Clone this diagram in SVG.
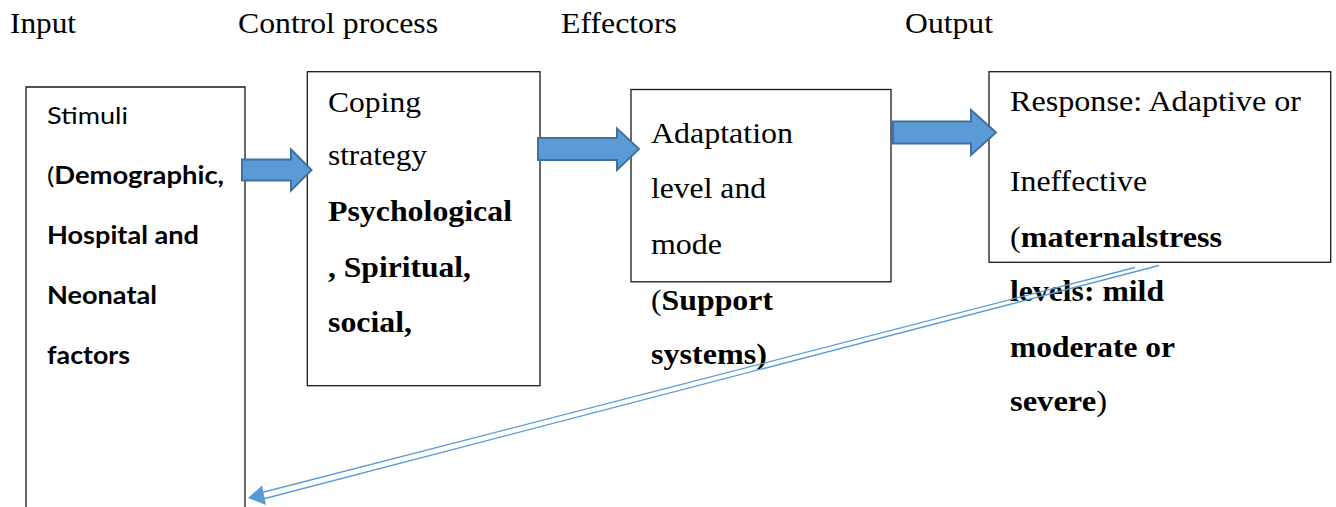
<svg xmlns="http://www.w3.org/2000/svg" width="1336" height="507" viewBox="0 0 1336 507">
<style>
.bg{fill:#ffffff}
.box{fill:#ffffff;stroke:#1a1a1a;stroke-width:1.3}
.blk{fill:#5B9BD5;stroke:#41719C;stroke-width:2;stroke-linejoin:miter}
.ln{fill:none;stroke:#5B9BD5;stroke-width:1.3}
.head{fill:#5B9BD5}
.serif{font-family:"Liberation Serif","Times New Roman",serif;font-size:30px;fill:#000}
.hdr{font-family:"Liberation Serif","Times New Roman",serif;font-size:30px;fill:#000}
.sans{font-family:Lato,"Liberation Sans",sans-serif;font-size:24px;fill:#000}
.b{font-weight:bold}
</style>
<rect class="bg" x="0" y="0" width="1336" height="507"/>
<g id="headers">
<text class="hdr" x="10" y="33" textLength="66" lengthAdjust="spacingAndGlyphs">Input</text>
<text class="hdr" x="238" y="33" textLength="200" lengthAdjust="spacingAndGlyphs">Control process</text>
<text class="hdr" x="561" y="33" textLength="116" lengthAdjust="spacingAndGlyphs">Effectors</text>
<text class="hdr" x="905" y="33" textLength="88" lengthAdjust="spacingAndGlyphs">Output</text>
</g>
<g id="node-input">
<path class="box" d="M26,520 V87 H245 V520"/>
<text class="sans" x="47" y="124" textLength="81" lengthAdjust="spacingAndGlyphs">Stimuli</text>
<text class="sans" x="47" y="184" textLength="177" lengthAdjust="spacingAndGlyphs">(<tspan class="b">Demographic,</tspan></text>
<text class="sans b" x="47" y="244" textLength="152" lengthAdjust="spacingAndGlyphs">Hospital and</text>
<text class="sans b" x="47" y="304" textLength="110" lengthAdjust="spacingAndGlyphs">Neonatal</text>
<text class="sans b" x="47" y="364" textLength="83" lengthAdjust="spacingAndGlyphs">factors</text>
</g>
<g id="node-control">
<rect class="box" x="307.3" y="71.7" width="232.7" height="314"/>
<text class="serif" x="328" y="112" textLength="93" lengthAdjust="spacingAndGlyphs">Coping</text>
<text class="serif" x="328" y="165" textLength="99" lengthAdjust="spacingAndGlyphs">strategy</text>
<text class="serif b" x="328" y="221" textLength="184" lengthAdjust="spacingAndGlyphs">Psychological</text>
<text class="serif b" x="328" y="277" textLength="143" lengthAdjust="spacingAndGlyphs">, Spiritual,</text>
<text class="serif b" x="328" y="332" textLength="84" lengthAdjust="spacingAndGlyphs">social,</text>
</g>
<g id="node-effectors">
<rect class="box" x="631" y="89.5" width="260" height="192.3"/>
<text class="serif" x="651" y="143" textLength="142" lengthAdjust="spacingAndGlyphs">Adaptation</text>
<text class="serif" x="651" y="198" textLength="115" lengthAdjust="spacingAndGlyphs">level and</text>
<text class="serif" x="651" y="254" textLength="71" lengthAdjust="spacingAndGlyphs">mode</text>
<text class="serif" x="651" y="310" textLength="122" lengthAdjust="spacingAndGlyphs">(<tspan class="b">Support</tspan></text>
<text class="serif b" x="651" y="364" textLength="116" lengthAdjust="spacingAndGlyphs">systems)</text>
</g>
<g id="node-output">
<rect class="box" x="989" y="71.7" width="341.7" height="190.6"/>
<text class="serif" x="1010" y="111" textLength="291" lengthAdjust="spacingAndGlyphs">Response: Adaptive or</text>
<text class="serif" x="1010" y="191" textLength="137" lengthAdjust="spacingAndGlyphs">Ineffective</text>
<text class="serif" x="1010" y="247" textLength="212" lengthAdjust="spacingAndGlyphs">(<tspan class="b">maternalstress</tspan></text>
<text class="serif b" x="1010" y="301" textLength="154" lengthAdjust="spacingAndGlyphs">levels: mild</text>
<text class="serif b" x="1010" y="357" textLength="165" lengthAdjust="spacingAndGlyphs">moderate or</text>
<text class="serif" x="1010" y="411" textLength="97" lengthAdjust="spacingAndGlyphs"><tspan class="b">severe</tspan>)</text>
</g>
<g id="connectors">
<polygon class="blk" points="242,159.5 291,159.5 291,149.5 311.5,170 291,190.5 291,180.5 242,180.5"/>
<polygon class="blk" points="538,138 617,138 617,128.5 639,149 617,170 617,160 538,160"/>
<polygon class="blk" points="893,121.5 971,121.5 971,110 996,132.5 971,155 971,143.5 893,143.5"/>
<line class="ln" x1="1135" y1="267.5" x2="262" y2="492.5"/>
<line class="ln" x1="1159" y1="265.5" x2="263" y2="499"/>
<polygon class="head" points="248,498 262,485.5 266,505"/>
</g>
</svg>
